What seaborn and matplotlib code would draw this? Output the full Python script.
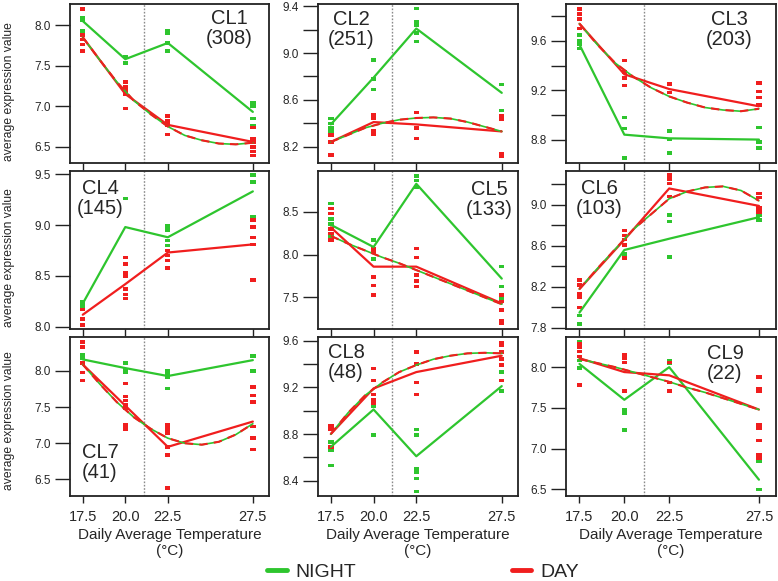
import numpy as np
import pandas as pd
import matplotlib
matplotlib.use('Agg')
import matplotlib.pyplot as plt
from matplotlib.lines import Line2D
import seaborn as sns

# ---- data ----
temps = [17.5, 20.0, 22.5, 27.5]
xtick_labels = ['17.5', '20.0', '22.5', '27.5']
clusters = ['CL1', 'CL2', 'CL3', 'CL4', 'CL5', 'CL6', 'CL7', 'CL8', 'CL9']
counts = [308, 251, 203, 145, 133, 103, 41, 48, 22]

night_means = [
    [8.05, 7.58, 7.78, 6.93],
    [8.39, 8.79, 9.21, 8.66],
    [9.57, 8.84, 8.81, 8.80],
    [8.23, 8.98, 8.88, 9.33],
    [8.35, 8.09, 8.83, 7.72],
    [7.95, 8.56, 8.67, 8.88],
    [8.16, 8.04, 7.93, 8.15],
    [8.69, 9.01, 8.61, 9.21],
    [8.04, 7.60, 8.00, 6.62],
]
day_means = [
    [7.85, 7.15, 6.77, 6.56],
    [8.24, 8.41, 8.39, 8.33],
    [9.74, 9.33, 9.21, 9.07],
    [8.12, 8.42, 8.73, 8.81],
    [8.32, 7.86, 7.86, 7.43],
    [8.18, 8.66, 9.16, 8.99],
    [8.09, 7.52, 6.95, 7.30],
    [8.80, 9.19, 9.33, 9.47],
    [8.11, 7.94, 7.90, 7.48],
]

night_points = [
    [[8.09, 8.06, 7.93], [7.61, 7.53], [7.93, 7.90, 7.78, 7.68], [7.04, 7.00, 6.85, 6.76]],
    [[8.44, 8.40, 8.36, 8.33], [8.94, 8.78, 8.69], [9.38, 9.27, 9.24, 9.17, 9.10], [8.73, 8.51]],
    [[9.65, 9.60, 9.57, 9.54], [8.98, 8.89, 8.65], [8.87, 8.80, 8.69], [8.90, 8.78, 8.73]],
    [[8.25, 8.22, 8.20], [9.26], [8.99, 8.95, 8.85, 8.80], [9.49, 9.42, 9.08, 9.06]],
    [[8.60, 8.42, 8.36, 8.21], [8.17, 8.07, 7.95], [8.92, 8.87, 8.79], [7.86, 7.63, 7.48]],
    [[8.00, 7.92, 7.84], [8.61, 8.52, 8.49], [8.90, 8.84, 8.49], [8.90, 8.85]],
    [[8.23, 8.18, 8.11], [8.11, 8.02, 7.98], [8.00, 7.95, 7.91, 7.76], [8.21, 8.00]],
    [[8.73, 8.66, 8.53], [9.04, 8.79], [8.84, 8.79, 8.50, 8.47, 8.42, 8.31], [9.33, 9.17]],
    [[8.31, 8.27, 8.08, 7.99], [7.48, 7.44, 7.23], [8.08, 8.05], [6.85, 6.50]],
]
day_points = [
    [[8.20, 7.88, 7.82, 7.76, 7.68], [7.30, 7.24, 7.20, 7.15, 6.97], [6.88, 6.82, 6.77, 6.65],
     [6.74, 6.60, 6.56, 6.50, 6.44, 6.39]],
    [[8.30, 8.24, 8.13], [8.47, 8.44, 8.34, 8.31], [8.49, 8.36, 8.27], [8.46, 8.43, 8.14, 8.12]],
    [[9.86, 9.82, 9.78, 9.70], [9.44, 9.35, 9.30, 9.24], [9.25, 9.18], [9.26, 9.19, 9.14, 9.08]],
    [[8.17, 8.08, 8.02], [8.68, 8.62, 8.53, 8.50, 8.37, 8.32, 8.28], [8.75, 8.70, 8.65, 8.58],
     [9.05, 8.98, 8.88, 8.81, 8.46]],
    [[8.54, 8.48, 8.30, 8.25, 8.17], [8.07, 8.03, 7.74, 7.64, 7.53], [8.07, 7.97, 7.76, 7.69, 7.63],
     [7.53, 7.45, 7.35, 7.23, 7.20]],
    [[8.27, 8.22, 8.13, 8.10, 8.00], [8.75, 8.70, 8.66, 8.61, 8.48], [9.29, 9.25, 9.21, 9.08],
     [9.11, 9.07, 8.97, 8.93]],
    [[8.40, 8.33, 8.11, 7.98, 7.87], [7.83, 7.65, 7.59, 7.53, 7.48, 7.25, 7.20],
     [7.25, 7.20, 7.14, 6.95, 6.84, 6.38], [7.78, 7.66, 7.57, 7.23, 7.07, 6.91]],
    [[8.87, 8.84, 8.69], [9.36, 9.26, 9.14, 9.09, 9.06], [9.50, 9.40, 9.24, 9.14],
     [9.58, 9.56, 9.50, 9.44, 9.39, 9.26]],
    [[8.29, 8.25, 8.19, 8.13, 7.78], [8.15, 8.11, 8.06, 7.71], [8.06, 7.81, 7.71],
     [7.88, 7.73, 7.71, 7.29, 7.25, 7.10, 6.92, 6.88]],
]

# dashed fitted curve (day), read at these temperatures
fit_x = [17.5, 18.5, 19.5, 20.5, 21.5, 22.5, 23.5, 24.5, 25.5, 26.5, 27.5]
fit_y = [
    [7.85, 7.57, 7.30, 7.07, 6.90, 6.75, 6.64, 6.58, 6.54, 6.53, 6.55],
    [8.24, 8.30, 8.36, 8.40, 8.43, 8.445, 8.45, 8.44, 8.41, 8.37, 8.33],
    [9.74, 9.57, 9.42, 9.31, 9.22, 9.15, 9.10, 9.06, 9.04, 9.03, 9.05],
    None,
    [8.22, 8.13, 8.05, 7.97, 7.90, 7.82, 7.74, 7.66, 7.58, 7.50, 7.42],
    [8.18, 8.38, 8.57, 8.76, 8.91, 9.06, 9.13, 9.17, 9.18, 9.14, 9.04],
    [8.09, 7.82, 7.57, 7.36, 7.20, 7.07, 7.00, 6.98, 7.02, 7.12, 7.27],
    [8.80, 8.98, 9.13, 9.24, 9.33, 9.39, 9.44, 9.47, 9.49, 9.495, 9.49],
    [8.10, 8.05, 8.00, 7.94, 7.88, 7.82, 7.75, 7.69, 7.62, 7.55, 7.48],
]

ylims = [(6.30, 8.26), (8.06, 9.42), (8.61, 9.90), (7.98, 9.53), (7.13, 8.98),
         (7.79, 9.33), (6.27, 8.47), (8.27, 9.63), (6.42, 8.37)]
yticks_major = [[6.5, 7.0, 7.5, 8.0], [8.2, 8.6, 9.0, 9.4], [8.8, 9.2, 9.6], [8.0, 8.5, 9.0, 9.5],
                [7.5, 8.0, 8.5], [7.8, 8.2, 8.6, 9.0], [6.5, 7.0, 7.5, 8.0], [8.4, 8.8, 9.2, 9.6],
                [6.5, 7.0, 7.5, 8.0]]
yticks_minor = [[], [8.4, 8.8, 9.2], [9.0, 9.4, 9.8], [], [], [8.0, 8.4, 8.8, 9.2], [],
                [8.6, 9.0, 9.4], []]

GREEN = '#2ec52e'
RED = '#f01e1e'

sns.set_style('white')
plt.rcParams['font.family'] = ['Liberation Sans', 'DejaVu Sans']

W, H = 778, 581
fig = plt.figure(figsize=(W / 100, H / 100), dpi=100)

col_left = [70, 318, 566]
col_width = [199, 200, 210]
row_top = [4, 171, 337]
row_bottom = [163, 329, 496]
label_pos = [(229, 13), (351, 14), (729, 14), (100, 183), (489, 184), (599, 183),
             (100, 447), (346, 347), (725, 348)]
ylabel_y = [92, 258, 421]

# small horizontal dash used for the individual points
rect = [(-1, -0.65), (1, -0.65), (1, 0.65), (-1, 0.65), (-1, -0.65)]

for i, name in enumerate(clusters):
    r, c = divmod(i, 3)
    ax = fig.add_axes([col_left[c] / W, 1 - row_bottom[r] / H,
                       col_width[c] / W, (row_bottom[r] - row_top[r]) / H])

    rows = []
    for period, pts in (('NIGHT', night_points[i]), ('DAY', day_points[i])):
        for t, vals in zip(temps, pts):
            for v in vals:
                rows.append((period, t, v))
    pts_df = pd.DataFrame(rows, columns=['period', 'temp', 'value'])

    ax.axvline(21.1, color='#8a8a8a', lw=1, ls=(0, (1.2, 1.2)), zorder=1)

    sns.scatterplot(data=pts_df, x='temp', y='value', hue='period',
                    palette={'NIGHT': GREEN, 'DAY': RED}, hue_order=['NIGHT', 'DAY'],
                    marker=rect, s=15, linewidth=0, legend=False, ax=ax, zorder=2)

    sns.lineplot(x=temps, y=night_means[i], color=GREEN, lw=1.6, estimator=None, ax=ax, zorder=3)
    sns.lineplot(x=temps, y=day_means[i], color=RED, lw=1.6, estimator=None, ax=ax, zorder=4)
    if fit_y[i] is not None:
        sns.lineplot(x=fit_x, y=fit_y[i], color=GREEN, lw=1.2, estimator=None, ax=ax, zorder=5)
        sns.lineplot(x=fit_x, y=fit_y[i], color=RED, lw=1.5, estimator=None,
                     linestyle=(0, (4, 3)), ax=ax, zorder=6)

    ax.set_xlim(16.75, 28.45)
    ax.set_ylim(*ylims[i])
    ax.set_xticks(temps)
    ax.set_yticks(yticks_major[i])
    ax.set_yticklabels(['%.1f' % v for v in yticks_major[i]])
    ax.set_yticks(yticks_minor[i], minor=True)
    ax.tick_params(axis='y', which='both', direction='out', length=11, width=1,
                   pad=3, labelsize=8.5, left=True, color='#222222')
    ax.tick_params(axis='x', direction='out', length=5, width=1, pad=5,
                   labelsize=10.5, bottom=True, color='#222222')
    if r == 2:
        ax.set_xticklabels(xtick_labels)
        ax.set_xlabel('Daily Average Temperature\n(°C)', fontsize=11, labelpad=3)
    else:
        ax.set_xticklabels([])
        ax.set_xlabel('')
    ax.set_ylabel('')
    for sp in ax.spines.values():
        sp.set_visible(True)
        sp.set_color('#222222')
        sp.set_linewidth(1.3)

    lx, ly = label_pos[i]
    fig.text(lx / W, 1 - (ly - 4) / H, '%s\n(%d)' % (name, counts[i]),
             ha='center', va='top', fontsize=14.5, linespacing=1.05)

for y in ylabel_y:
    fig.text(9.5 / W, 1 - y / H, 'average expression value', rotation=90,
             ha='center', va='center', fontsize=8.7)

handles = [Line2D([0], [0], color=GREEN, lw=3.5), Line2D([0], [0], color=RED, lw=3.5)]
fig.legend(handles, ['NIGHT', 'DAY'], loc='center', bbox_to_anchor=(423 / W, 1 - 572 / H),
           ncol=2, frameon=False, fontsize=14, handlelength=1.0, handletextpad=0.45,
           columnspacing=8.0)

fig.savefig('out.png', dpi=100)
